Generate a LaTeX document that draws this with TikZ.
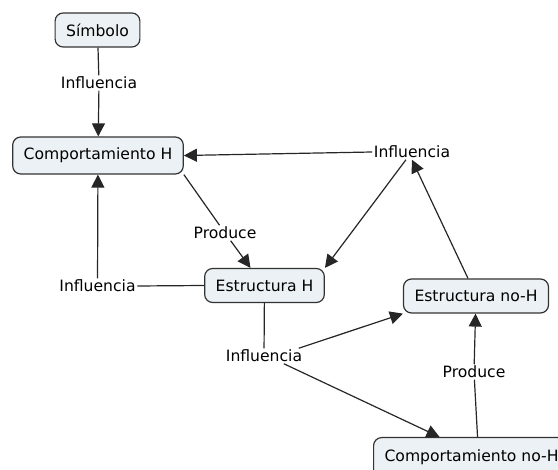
\documentclass[tikz,border=0pt]{standalone}
\usepackage{fontspec}
\setmainfont{DejaVu Sans}
\usetikzlibrary{arrows.meta}
\definecolor{boxfill}{HTML}{EBF1F4}
\definecolor{boxdraw}{HTML}{333333}
\begin{document}
\begin{tikzpicture}[x=1pt,y=-1pt,
  concept/.style={draw=boxdraw, line width=1.2pt, fill=boxfill, rounded corners=8pt,
    font=\fontsize{15.6}{18}\selectfont, inner xsep=11pt, minimum height=34pt},
  linkph/.style={font=\fontsize{15.6}{18}\selectfont, inner sep=1.5pt},
  conn/.style={draw=black!85, line width=1.2pt},
  arr/.style={conn, -{Triangle[length=13pt,width=13pt]}}]
\useasboundingbox (0,0) rectangle (558,470);
\node[concept] (sim) at (97.5,30) {Símbolo};
\node[concept, minimum height=37pt] (ch) at (98,155.5) {Comportamiento H};
\node[concept] (eh) at (264.5,285.5) {Estructura H};
\node[concept] (enh) at (476,296) {Estructura no-H};
\node[concept, anchor=north west, minimum height=40pt] (cnh) at (373,437) {Comportamiento no-H};
\node[linkph] (i1) at (99,83) {Influencia};
\node[linkph] (i2) at (412,152) {Influencia};
\node[linkph] (p1) at (225,233) {Produce};
\node[linkph] (i3) at (97.5,286) {Influencia};
\node[linkph] (i4) at (264,356) {Influencia};
\node[linkph] (p2) at (474,372) {Produce};
\draw[conn] (sim) -- (i1);
\draw[arr] (i1) -- (ch);
\draw[arr] (i2.west) -- (ch.east);
\draw[arr] (i2.south) ++(-6,0) coordinate (i2s) -- (eh.north east);
\draw[arr] (enh.north) ++(-8,0) coordinate (enhs) -- (i2.south);
\draw[conn] (ch.south east) -- (p1);
\draw[arr] (p1) -- ([xshift=-14pt]eh.north);
\draw[conn] (eh.west) -- (i3.east);
\draw[arr] (i3) -- (ch);
\draw[conn] (eh) -- (i4);
\draw[arr] (i4.north east) ++(-5,0) coordinate (i4a) -- (enh.south west);
\draw[arr] (i4.south east) ++(-20,0) coordinate (i4b) -- ([xshift=-32pt]cnh.north);
\draw[conn] ([xshift=6pt]cnh.north) coordinate (cnhs) -- (p2);
\draw[arr] (p2) -- (enh);
\end{tikzpicture}
\end{document}
